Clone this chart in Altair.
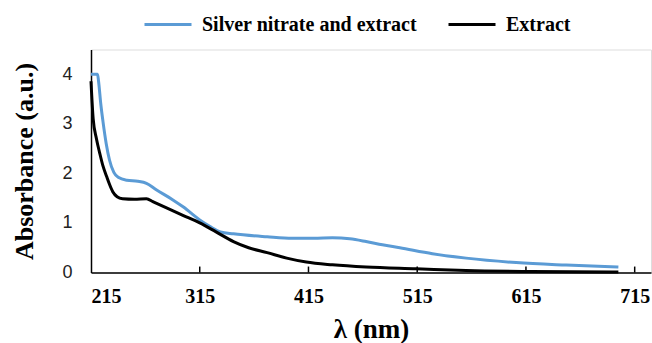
import altair as alt
import pandas as pd

# Silver nitrate and extract
wl_silver = [215, 218, 221, 222, 224, 226, 229, 232, 236, 240, 248, 258, 266, 275, 290, 300, 315, 325, 334, 346, 377, 400, 420, 437, 453, 468, 483, 499, 529, 560, 606, 652, 700]
ab_silver = [4.0, 4.0, 4.0, 3.85, 3.4, 3.05, 2.6, 2.27, 2.02, 1.92, 1.86, 1.84, 1.80, 1.67, 1.47, 1.32, 1.06, 0.92, 0.82, 0.78, 0.72, 0.69, 0.69, 0.70, 0.68, 0.625, 0.56, 0.50, 0.38, 0.29, 0.20, 0.15, 0.11]

# Extract
wl_extract = [215, 217, 220, 223, 226, 229.5, 232, 235, 239, 244, 255, 266, 272, 285, 300, 315, 330, 346, 360, 377, 395, 413, 437, 468, 514, 560, 620, 700]
ab_extract = [3.86, 3.1, 2.7, 2.41, 2.15, 1.93, 1.78, 1.63, 1.53, 1.49, 1.48, 1.49, 1.43, 1.30, 1.15, 1.0, 0.82, 0.625, 0.50, 0.40, 0.29, 0.21, 0.155, 0.11, 0.075, 0.04, 0.02, 0.01]

series_names = ["Silver nitrate and extract", "Extract"]
series_colors = ["#5B9BD5", "#000000"]
x_ticks = [215, 315, 415, 515, 615, 715]
inner_ticks = [315, 415, 515, 615, 715]
y_ticks = [0, 1, 2, 3, 4]

df = pd.concat([
    pd.DataFrame({"wl": wl_silver, "ab": ab_silver, "series": series_names[0]}),
    pd.DataFrame({"wl": wl_extract, "ab": ab_extract, "series": series_names[1]}),
])
tick_df = pd.DataFrame({"wl": inner_ticks, "y0": 0.0, "y1": 0.12})

xscale = alt.Scale(domain=[215, 730], nice=False, zero=False)
yscale = alt.Scale(domain=[0, 4.5], nice=False)

lines = alt.Chart(df).mark_line(strokeWidth=3, interpolate="monotone").encode(
    x=alt.X("wl:Q", scale=xscale, title="λ (nm)",
            axis=alt.Axis(values=x_ticks, grid=False, ticks=False, domainColor="black",
                          domainWidth=1.5, labelFont="Liberation Serif", labelFontWeight="bold",
                          labelFontSize=20, labelColor="black", labelPadding=14,
                          titleFont="Liberation Serif", titleFontWeight="bold", titleFontSize=27,
                          titleColor="black", titleBaseline="alphabetic", titleY=65)),
    y=alt.Y("ab:Q", scale=yscale, title="Absorbance (a.u.)",
            axis=alt.Axis(values=y_ticks, grid=False, ticks=False, domainColor="black",
                          domainWidth=1.5, labelFont="Liberation Sans", labelFontSize=18,
                          labelColor="#222222", labelPadding=19,
                          titleFont="Liberation Serif", titleFontWeight="bold", titleFontSize=26,
                          titleColor="black", titleBaseline="alphabetic", titleX=-59, titleAngle=-90)),
    color=alt.Color("series:N", scale=alt.Scale(domain=series_names, range=series_colors),
                    sort=series_names,
                    legend=alt.Legend(title=None, orient="none", direction="horizontal",
                                      legendX=52, legendY=-50, symbolType="stroke",
                                      symbolSize=2209, symbolStrokeWidth=3, labelFont="Liberation Serif",
                                      labelFontWeight="bold", labelFontSize=20, labelColor="black",
                                      labelOffset=9, columnPadding=25, labelLimit=400)),
)

ticks = alt.Chart(tick_df).mark_rule(color="black", strokeWidth=1.5).encode(
    x=alt.X("wl:Q", scale=xscale),
    y=alt.Y("y0:Q", scale=yscale),
    y2="y1:Q",
)

chart = alt.layer(lines, ticks).properties(
    width=560, height=223,
    autosize=alt.AutoSizeParams(type="none"),
    padding={"left": 91, "top": 49.5, "right": 1, "bottom": 70.5},
).configure_view(stroke=None).configure(background="white")

chart.save("out.html", embed_options={"renderer": "svg", "actions": False})
